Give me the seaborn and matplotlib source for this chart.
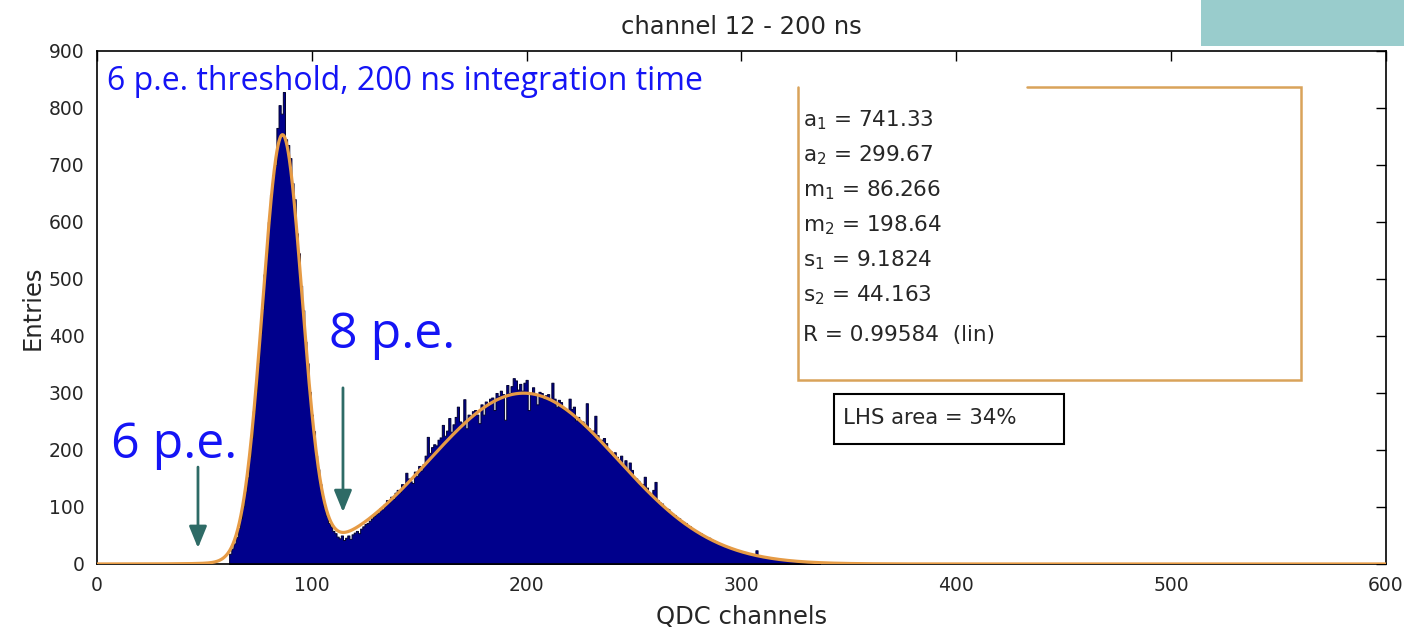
import numpy as np
import pandas as pd
import matplotlib
matplotlib.use("Agg")
import matplotlib.pyplot as plt
import seaborn as sns
from matplotlib.patches import Rectangle

# Histogram of QDC channel counts, one entry per channel starting at channel 62
first_channel = 62
counts = [
    18, 27, 36, 47, 63, 80, 101, 127, 152, 188,
    222, 268, 304, 352, 405, 447, 508, 545, 600, 648,
    682, 700, 765, 805, 790, 828, 745, 735, 712, 668,
    640, 580, 545, 488, 445, 390, 352, 302, 262, 233,
    190, 166, 140, 118, 100, 85, 72, 66, 58, 54,
    48, 45, 50, 42, 46, 50, 44, 52, 55, 58,
    54, 62, 66, 70, 72, 76, 80, 84, 88, 90,
    98, 96, 105, 112, 108, 118, 114, 125, 130, 126,
    140, 138, 160, 150, 145, 142, 162, 155, 172, 164,
    175, 190, 223, 195, 205, 210, 208, 218, 222, 244,
    225, 234, 256, 232, 245, 258, 276, 250, 248, 289,
    238, 262, 260, 268, 270, 262, 247, 280, 262, 285,
    282, 290, 292, 270, 300, 295, 304, 298, 253, 314,
    300, 312, 326, 322, 306, 316, 304, 318, 323, 270,
    300, 310, 298, 280, 302, 300, 290, 296, 298, 286,
    318, 290, 276, 288, 284, 272, 270, 268, 290, 272,
    276, 252, 258, 248, 250, 240, 282, 238, 230, 234,
    260, 226, 216, 218, 221, 212, 200, 198, 190, 196,
    188, 180, 190, 174, 182, 166, 178, 165, 152, 150,
    146, 138, 140, 153, 134, 126, 120, 130, 144, 112,
    108, 106, 100, 98, 96, 90, 88, 86, 82, 80,
    76, 74, 72, 68, 66, 62, 60, 58, 56, 54,
    51, 49, 47, 46, 43, 41, 39, 38, 36, 34,
    33, 31, 30, 28, 27, 25, 24, 23, 22, 21,
    19, 19, 18, 17, 16, 24, 14, 14, 13, 12,
    11, 10, 10, 10, 9, 8, 8, 7, 7, 6,
    6, 5, 5, 5, 4, 4, 4, 3, 3, 3,
    2, 2, 2, 1, 1,
]
channels = np.arange(first_channel, first_channel + len(counts))

# Double-Gaussian fit parameters
fit_names = ["a_1", "a_2", "m_1", "m_2", "s_1", "s_2"]
fit_values = [741.33, 299.67, 86.266, 198.64, 9.1824, 44.163]
fit_r = 0.99584
lhs_area = 34

x_ticks = [0, 100, 200, 300, 400, 500, 600]
y_ticks = [0, 100, 200, 300, 400, 500, 600, 700, 800, 900]

sns.set_theme(style="white")
plt.rcParams["font.family"] = ["DejaVu Sans"]
plt.rcParams["mathtext.default"] = "regular"

text_gray = "#262626"

fig = plt.figure(figsize=(14.04, 6.30), dpi=100)
fig.patch.set_facecolor("white")
ax = fig.add_axes([0.0691, 0.1048, 0.918, 0.8143])
ax.set_facecolor("white")

hist_df = pd.DataFrame({"channel": channels, "entries": counts})
sns.histplot(
    data=hist_df, x="channel", weights="entries",
    binwidth=1, binrange=(first_channel - 0.5, channels[-1] + 0.5),
    element="step", fill=True, color="#00008C", alpha=1.0,
    edgecolor="#000030", linewidth=0.7, ax=ax,
)

a1, a2, m1, m2, s1, s2 = fit_values
xfit = np.linspace(0, 600, 2401)
yfit = (a1 * np.exp(-(xfit - m1) ** 2 / (2 * s1 ** 2))
        + a2 * np.exp(-(xfit - m2) ** 2 / (2 * s2 ** 2)))
sns.lineplot(x=xfit, y=yfit, color="#E69B45", linewidth=2.3, ax=ax, zorder=3)

ax.set_xlim(0, 600)
ax.set_ylim(0, 900)
ax.set_xticks(x_ticks)
ax.set_yticks(y_ticks)
ax.tick_params(direction="in", length=7, width=1, top=True, right=True,
               labelsize=13.5, labelcolor=text_gray, color="black", pad=9)
for sp in ax.spines.values():
    sp.set_visible(True)
    sp.set_color("black")
    sp.set_linewidth(1.2)

ax.set_title("channel 12 - 200 ns", fontsize=17.5, color=text_gray, pad=12)
ax.set_xlabel("QDC channels", fontsize=17.5, color=text_gray, labelpad=7)
ax.set_ylabel("Entries", fontsize=17.5, color=text_gray, labelpad=3)

# Annotations
blue = "#1414F5"
ax.text(4.7, 847, "6 p.e. threshold, 200 ns integration time", color=blue,
        fontsize=23, family=["Open Sans", "DejaVu Sans"], va="center", ha="left")
ax.text(108.0, 402, "8 p.e.", color=blue, fontsize=36,
        family=["Open Sans", "DejaVu Sans"], va="center", ha="left")
ax.text(6.5, 209, "6 p.e.", color=blue, fontsize=36,
        family=["Open Sans", "DejaVu Sans"], va="center", ha="left")

arrow_color = "#2E6B66"
for xa, y0, y1 in [(114.5, 309, 91), (47.0, 170, 28)]:
    ax.annotate("", xy=(xa, y1), xytext=(xa, y0),
                arrowprops=dict(arrowstyle="-|>,head_length=1.1,head_width=0.45",
                                color=arrow_color, lw=2, shrinkA=0, shrinkB=0))

# Fit result box
box_color = "#D9A35A"
bx0, bx1, by0, by1 = 326.4, 560.5, 323, 837
ax.plot([bx0, bx0, bx1, bx1, 433], [by1, by0, by0, by1, by1],
        color=box_color, lw=1.8, solid_joinstyle="miter")
labels = [f"{n.split('_')[0]}$_{n.split('_')[1]}$ = {v:g}" for n, v in zip(fit_names, fit_values)]
labels.append(f"R = {fit_r:g}  (lin)")
line_y = [779, 717.5, 656, 595, 533, 472, 402]
for lab, yy in zip(labels, line_y):
    ax.text(328.7, yy, lab, fontsize=15.5, color=text_gray, va="center", ha="left")

ax.add_patch(Rectangle((343, 210.5), 107, 87.5, fill=False, edgecolor="black", lw=1.5))
ax.text(347.3, 256, f"LHS area = {lhs_area}%", fontsize=15.3, color=text_gray,
        va="center", ha="left")

# Teal corner block
fig.patches.append(Rectangle((1201 / 1404, 1 - 46 / 630), 203 / 1404, 46 / 630,
                             transform=fig.transFigure, facecolor="#99CCCC",
                             edgecolor="none", zorder=0))

fig.savefig("out.png", dpi=100)
